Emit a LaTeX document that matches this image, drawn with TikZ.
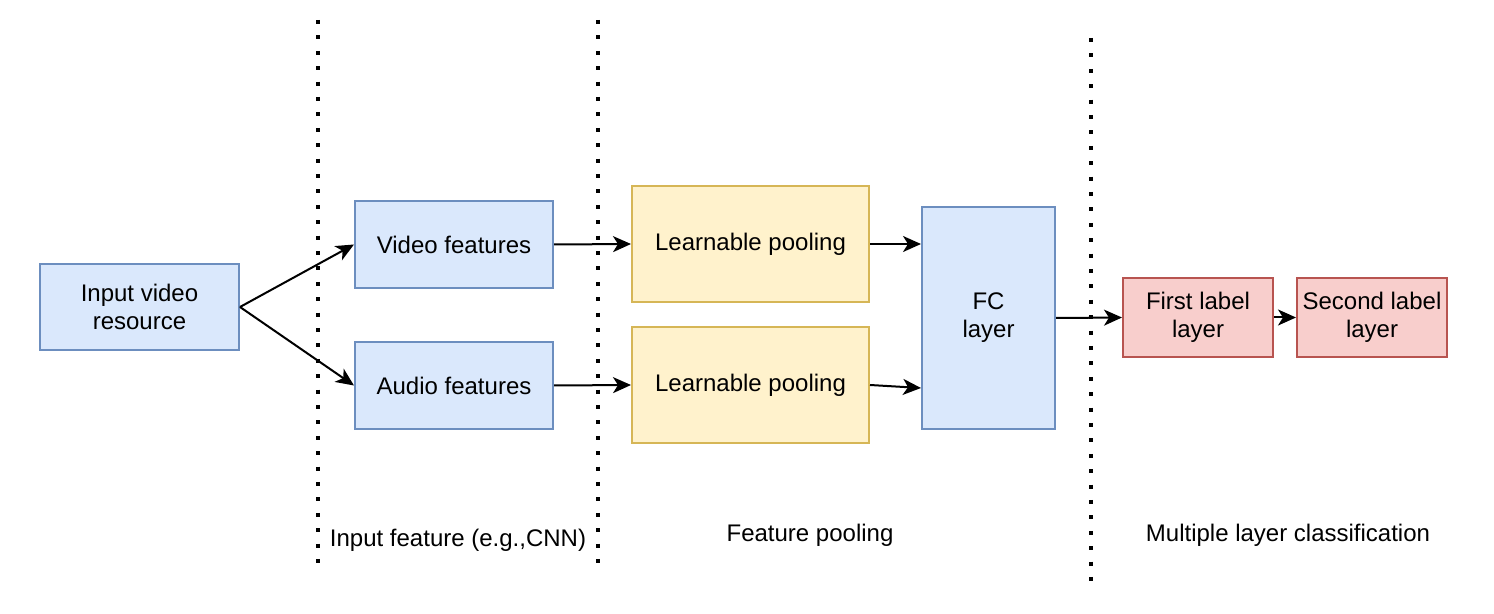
\documentclass[tikz,border=0pt]{standalone}
\usepackage{fontspec}
\setmainfont{Liberation Sans}
\usetikzlibrary{arrows.meta,calc}
\definecolor{bluefill}{HTML}{DAE8FC}
\definecolor{blueline}{HTML}{6C8EBF}
\definecolor{yellowfill}{HTML}{FFF2CC}
\definecolor{yellowline}{HTML}{D6B656}
\definecolor{redfill}{HTML}{F8CECC}
\definecolor{redline}{HTML}{B85450}
\begin{document}
\begin{tikzpicture}[x=0.5pt,y=-0.5pt,
    box/.style={draw,line width=1pt,align=center,inner sep=0pt,
        font=\fontsize{12}{14}\selectfont},
    bluebox/.style={box,fill=bluefill,draw=blueline},
    poolbox/.style={box,fill=yellowfill,draw=yellowline,minimum width=118.5pt,minimum height=58pt},
    labelbox/.style={box,fill=redfill,draw=redline,minimum width=75pt,minimum height=39.5pt},
    link/.style={-{Stealth[length=9pt,width=8pt,inset=2.5pt]},line width=1pt},
    sep/.style={line width=2pt,dash pattern=on 2pt off 5.7pt},
    caption/.style={font=\fontsize{12}{14}\selectfont}]
\useasboundingbox (0,0) rectangle (1494,614);
\foreach \x/\a/\b in {318/20/570,598/20/570,1091/38/585}{
    \draw[sep] (\x,\a)--(\x,\b);
}
\node[bluebox,minimum width=99.5pt,minimum height=43pt] (input) at (139.5,307) {Input video\\resource};
\node[bluebox,minimum width=99pt,minimum height=43.5pt] (video) at (454,244.5) {Video features};
\node[bluebox,minimum width=99pt,minimum height=43.5pt] (audio) at (454,385.5) {Audio features};
\node[poolbox] (pool1) at (750.5,244) {Learnable pooling};
\node[poolbox] (pool2) at (750.5,385) {Learnable pooling};
\node[bluebox,minimum width=66.5pt,minimum height=111pt] (fc) at (988.5,318) {FC\\layer};
\node[labelbox] (first) at (1198,317.5) {First label\\layer};
\node[labelbox] (second) at (1372,317.5) {Second label\\layer};
\node[caption] (cap1) at (458,540) {Input feature (e.g.,CNN)};
\node[caption] (cap2) at (810,535) {Feature pooling};
\node[caption] (cap3) at (1288,535) {Multiple layer classification};
\draw[link] (input.east)--(video.west);
\draw[link] (input.east)--(audio.west);
\draw[link] (video.east)--(pool1.west);
\draw[link] (audio.east)--(pool2.west);
\draw[link] (pool1.east)--(pool1.east -| fc.west);
\draw[link] (pool2.east)--($(pool2.east -| fc.west)+(0,3)$);
\draw[link] (fc.east)--(first.west);
\draw[link] (first.east)--(second.west);
\end{tikzpicture}
\end{document}
